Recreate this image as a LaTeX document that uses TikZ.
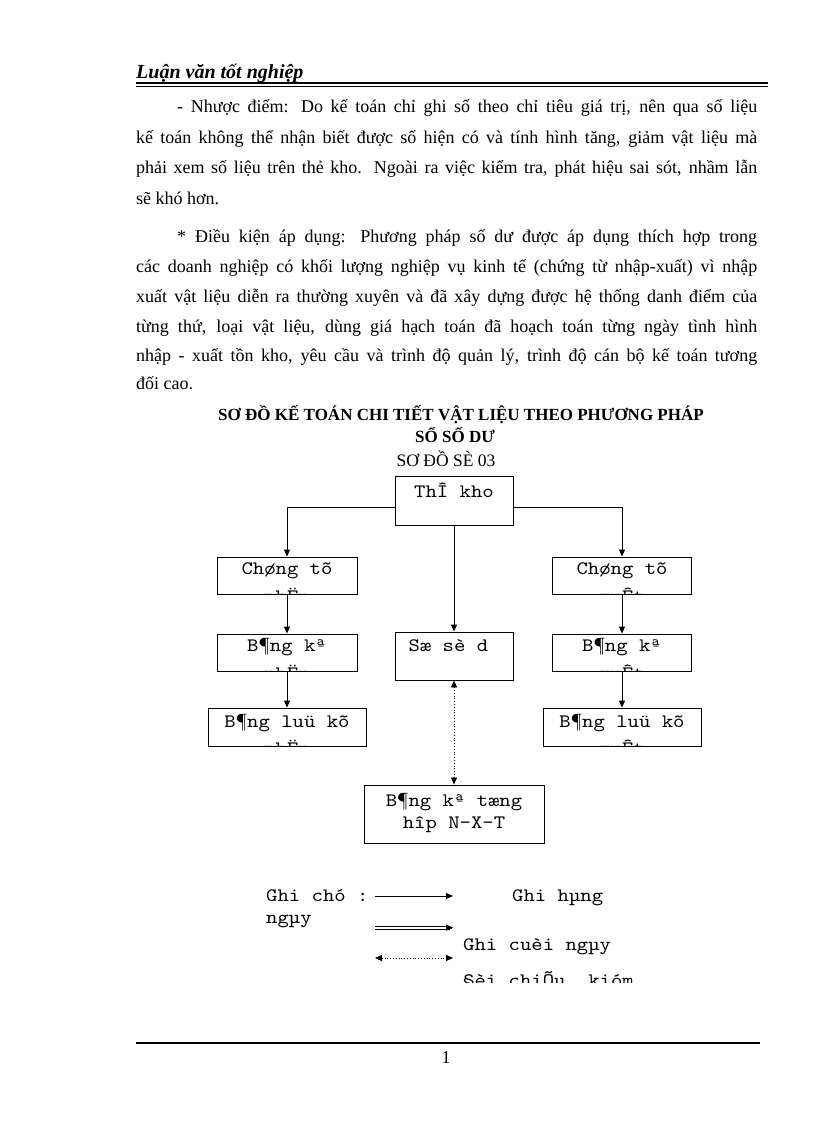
\documentclass[tikz,border=0pt]{standalone}
\usepackage{fontspec}
\setmainfont{Liberation Serif}
\newfontfamily\monofont[FakeStretch=1.14]{lmmono10-regular.otf}
\usetikzlibrary{arrows.meta,calc}
\begin{document}
\begin{tikzpicture}[x=1pt,y=-1pt,
  bt/.style={font=\fontsize{18}{22}\selectfont, inner sep=0, anchor=base west},
  ttl/.style={font=\bfseries\fontsize{17}{20}\selectfont, inner sep=0, anchor=base},
  mt/.style={font=\monofont\fontsize{19}{22}\selectfont, inner sep=0, anchor=base},
  box/.style={draw, line width=0.9pt, inner sep=0},
  conn/.style={line width=0.9pt, -{Triangle[length=7pt,width=6pt]}},
  dconn/.style={line width=0.8pt, dotted, {Triangle[length=7pt,width=6pt]}-{Triangle[length=7pt,width=6pt]}}
]
\useasboundingbox (0,0) rectangle (816,1123);
\fill[white] (0,0) rectangle (816,1123);

% header
\node[inner sep=0, anchor=base west, font=\bfseries\itshape\fontsize{20}{24}\selectfont] (hdr) at (136,79) {Luận văn tốt nghiệp};
\draw[line width=2pt] (136,83.5) -- (768,83.5);
\draw[line width=0.8pt] (136,86.8) -- (768,86.8);

% body text
\node[bt] (l1) at (177,113) {\hbox to 580pt{- Nhược điểm: Do kế toán chỉ ghi sổ theo chỉ tiêu giá trị, nên qua số liệu}};
\node[bt] (l2) at (136,144) {\hbox to 621pt{kế toán không thể nhận biết được số hiện có và tính hình tăng, giảm vật liệu mà}};
\node[bt] (l3) at (136,174) {\hbox to 621pt{phải xem số liệu trên thẻ kho. Ngoài ra việc kiểm tra, phát hiệu sai sót, nhầm lẫn}};
\node[bt] (l4) at (136,205) {sẽ khó hơn.};
\node[bt] (l5) at (177,243) {\hbox to 580pt{* Điều kiện áp dụng: Phương pháp số dư được áp dụng thích hợp trong}};
\node[bt] (l6) at (136,272) {\hbox to 621pt{các doanh nghiệp có khối lượng nghiệp vụ kinh tế (chứng từ nhập-xuất) vì nhập}};
\node[bt] (l7) at (136,302) {\hbox to 621pt{xuất vật liệu diễn ra thường xuyên và đã xây dựng được hệ thống danh điểm của}};
\node[bt] (l8) at (136,332) {\hbox to 621pt{từng thứ, loại vật liệu, dùng giá hạch toán đã hoạch toán từng ngày tình hình}};
\node[bt] (l9) at (136,361) {\hbox to 621pt{nhập - xuất tồn kho, yêu cầu và trình độ quản lý, trình độ cán bộ kế toán tương}};
\node[bt] (l10) at (136,389) {đối cao.};

% titles
\node[ttl] (t1) at (461,420) {SƠ ĐỒ KẾ TOÁN CHI TIẾT VẬT LIỆU THEO PHƯƠNG PHÁP};
\node[ttl] (t2) at (455,442) {SỔ SỐ DƯ};
\node[ttl, font=\fontsize{17.5}{20}\selectfont] (t3) at (446,466) {SƠ ĐỒ SÈ 03};

% boxes
\node[box, minimum width=118pt, minimum height=49pt] (tk) at (454,500.5) {};
\node[box, minimum width=140pt, minimum height=37pt] (ctn) at (287,575.5) {};
\node[box, minimum width=140pt, minimum height=37pt] (bkn) at (287,652.5) {};
\node[box, minimum width=158pt, minimum height=38pt] (lkn) at (287,727) {};
\node[box, minimum width=118pt, minimum height=48pt] (ssd) at (454,656) {};
\node[box, minimum width=139pt, minimum height=37pt] (ctx) at (622,575.5) {};
\node[box, minimum width=139pt, minimum height=37pt] (bkx) at (622,652.5) {};
\node[box, minimum width=158pt, minimum height=38pt] (lkx) at (622,727) {};
\node[box, minimum width=180pt, minimum height=58pt] (th) at (454,814) {};

% box texts
\node[mt] (tkT) at (454,497) {ThÎ kho};
\node[mt] (ctnT) at (287,574) {Chøng tõ};
\node[mt] (bknT) at (287,651) {B¶ng kª};
\node[mt] (lknT) at (287,727) {B¶ng luü kõ};
\node[mt] (ssdT) at (454,651) {Sæ sè d\phantom{x}};
\node[mt] (ctxT) at (622,574) {Chøng tõ};
\node[mt] (bkxT) at (622,651) {B¶ng kª};
\node[mt] (lkxT) at (622,727) {B¶ng luü kõ};
\node[mt] (thT1) at (454,806) {B¶ng kª tæng};
\node[mt] (thT2) at (454,828) {hîp N-X-T};

% clipped second lines
\begin{scope}
\clip ([yshift=1.2pt]ctn.south west) rectangle (ctn.north east);
\node[mt] (ctnT2) at (287,602.5) {nhËp};
\end{scope}
\begin{scope}
\clip ([yshift=1.2pt]bkn.south west) rectangle (bkn.north east);
\node[mt] (bknT2) at (287,679.5) {nhËp};
\end{scope}
\begin{scope}
\clip ([yshift=1.2pt]lkn.south west) rectangle (lkn.north east);
\node[mt] (lknT2) at (287,754.5) {nhËp};
\end{scope}
\begin{scope}
\clip ([yshift=1.2pt]ctx.south west) rectangle (ctx.north east);
\node[mt] (ctxT2) at (622,602.5) {xuÊt};
\end{scope}
\begin{scope}
\clip ([yshift=1.2pt]bkx.south west) rectangle (bkx.north east);
\node[mt] (bkxT2) at (622,679.5) {xuÊt};
\end{scope}
\begin{scope}
\clip ([yshift=1.2pt]lkx.south west) rectangle (lkx.north east);
\node[mt] (lkxT2) at (622,754.5) {xuÊt};
\end{scope}

% connectors
\draw[conn] ([yshift=-6.5pt]tk.west) -| (ctn.north);
\draw[conn] ([yshift=-6.5pt]tk.east) -| (ctx.north);
\draw[conn] (tk.south) -- (ssd.north);
\draw[conn] (ctn.south) -- (bkn.north);
\draw[conn] (bkn.south) -- (lkn.north);
\draw[conn] (ctx.south) -- (bkx.north);
\draw[conn] (bkx.south) -- (lkx.north);
\draw[dconn] (ssd.south) -- (th.north);

% legend
\node[mt, anchor=base west] (g1) at (266,901) {Ghi chó :};
\node[mt, anchor=base west] (g2) at (266,923) {ngµy};
\node[mt, anchor=base west] (g3) at (512,901) {Ghi hµng};
\node[mt, anchor=base west] (g4) at (463,950) {Ghi cuèi ngµy};
\begin{scope}
\clip (440,960) rectangle (700,982.5);
\node[mt, anchor=base west] (g5) at (463,986) {§èi chiÕu, kióm};
\end{scope}
\coordinate (a1s) at (375,896);
\coordinate (a1e) at (453,896);
\coordinate (a2s) at (375,926);
\coordinate (a2e) at (450,926);
\coordinate (a2s2) at (375,929.2);
\coordinate (a2e2) at (450,929.2);
\coordinate (a2t) at (453,927.6);
\coordinate (a3s) at (375,958);
\coordinate (a3e) at (453,958);
\draw[conn] (a1s) -- (a1e);
\draw[line width=0.9pt] (a2s) -- (a2e);
\draw[line width=0.9pt] (a2s2) -- (a2e2);
\draw[line width=0.1pt, -{Triangle[length=7pt,width=6pt]}] ([xshift=-1pt]a2t) -- (a2t);
\draw[dconn] (a3s) -- (a3e);

% footer
\draw[line width=2pt] (136,1043) -- (760,1043);
\node[inner sep=0, anchor=base, font=\fontsize{18}{22}\selectfont] (pg) at (446,1063) {1};
\end{tikzpicture}
\end{document}
